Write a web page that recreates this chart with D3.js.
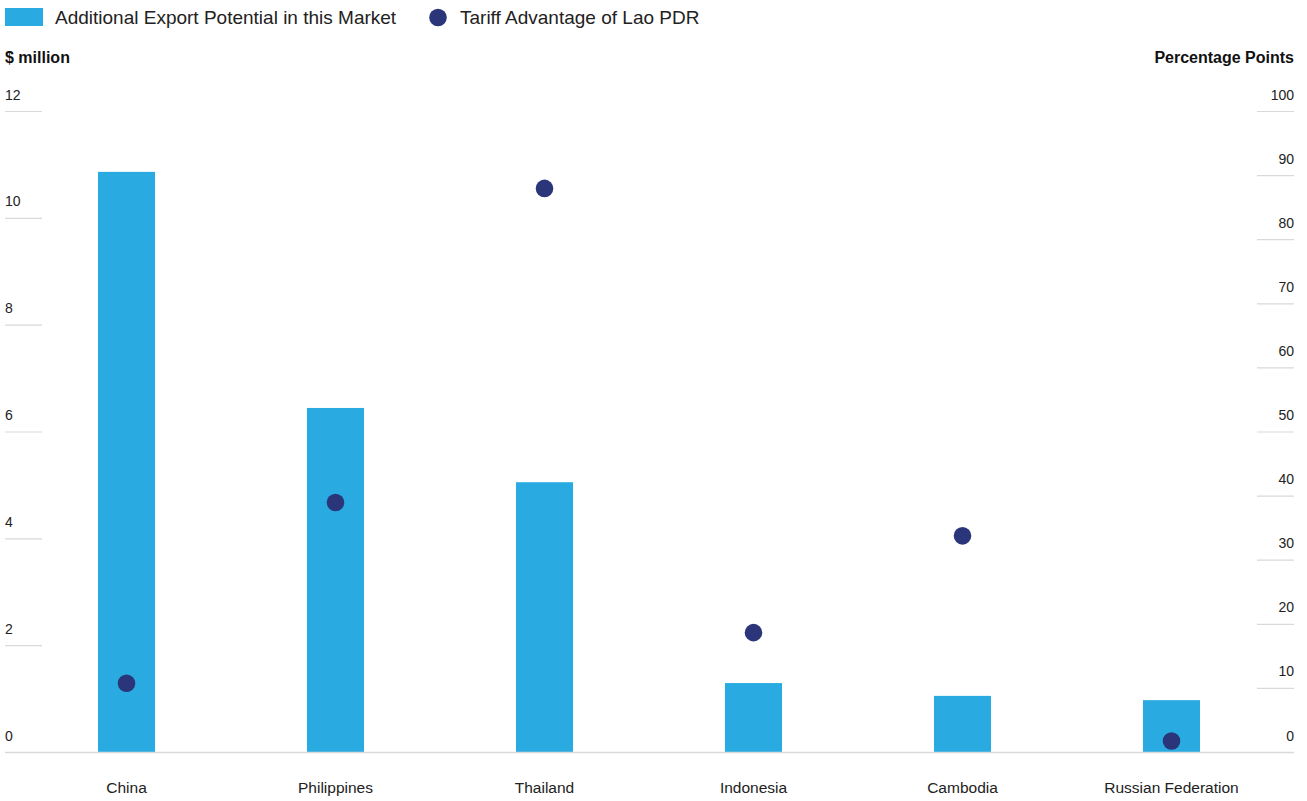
<!DOCTYPE html>
<html>
<head>
<meta charset="utf-8">
<script src="https://cdn.jsdelivr.net/npm/d3@7"></script>
<style>
  html, body { margin: 0; padding: 0; background: #ffffff; }
  svg { display: block; font-family: "Liberation Sans", Arial, Helvetica, sans-serif; }
</style>
</head>
<body>
<svg id="chart" width="1307" height="801"></svg>
<script>
// Markets, export potential ($ million) and tariff advantage (percentage points)
const markets = ["China", "Philippines", "Thailand", "Indonesia", "Cambodia", "Russian Federation"];
const exportPotential = [10.87, 6.45, 5.06, 1.30, 1.06, 0.98];
const tariffAdvantage = [10.8, 39.0, 88.0, 18.7, 33.8, 1.8];
const leftTicks = [0, 2, 4, 6, 8, 10, 12];
const rightTicks = [0, 10, 20, 30, 40, 50, 60, 70, 80, 90, 100];

const barColor = "#29abe2";
const dotColor = "#2b3579";
const gridColor = "#d9d9d9";

const svg = d3.select("#chart");

const plotTop = 111.5, plotBottom = 752.5;
const x = d3.scaleBand().domain(markets).range([22, 1276]).paddingInner(0.727).paddingOuter(0.3635);
const yL = d3.scaleLinear().domain([0, 12]).range([plotBottom, plotTop]);
const yR = d3.scaleLinear().domain([0, 100]).range([plotBottom, plotTop]);

// Legend
const legend = svg.append("g");
legend.append("rect").attr("x", 5).attr("y", 8).attr("width", 38).attr("height", 18).attr("fill", barColor);
legend.append("text").attr("x", 55).attr("y", 24).attr("font-size", 19).attr("fill", "#222")
  .text("Additional Export Potential in this Market");
legend.append("circle").attr("cx", 438).attr("cy", 17.5).attr("r", 8.8).attr("fill", dotColor);
legend.append("text").attr("x", 460).attr("y", 24).attr("font-size", 19).attr("fill", "#222")
  .text("Tariff Advantage of Lao PDR");

// Axis titles
svg.append("text").attr("x", 5).attr("y", 63).attr("font-size", 16).attr("font-weight", "bold").attr("fill", "#111")
  .text("$ million");
svg.append("text").attr("x", 1294).attr("y", 63).attr("text-anchor", "end").attr("font-size", 16)
  .attr("font-weight", "bold").attr("fill", "#111").text("Percentage Points");

// Left axis ticks (short rules with labels above)
const gl = svg.append("g");
leftTicks.filter(d => d > 0).forEach(d => {
  gl.append("line").attr("x1", 5).attr("x2", 42).attr("y1", yL(d)).attr("y2", yL(d))
    .attr("stroke", gridColor).attr("stroke-width", 1.2);
});
leftTicks.forEach(d => {
  gl.append("text").attr("x", 5).attr("y", yL(d) - 12).attr("font-size", 14).attr("fill", "#222").text(d);
});

// Right axis ticks
const gr = svg.append("g");
rightTicks.filter(d => d > 0).forEach(d => {
  gr.append("line").attr("x1", 1257).attr("x2", 1294).attr("y1", yR(d)).attr("y2", yR(d))
    .attr("stroke", gridColor).attr("stroke-width", 1.2);
});
rightTicks.forEach(d => {
  gr.append("text").attr("x", 1294).attr("y", yR(d) - 12).attr("text-anchor", "end")
    .attr("font-size", 14).attr("fill", "#222").text(d);
});

// Bars
svg.append("g").selectAll("rect").data(markets).join("rect")
  .attr("x", d => x(d))
  .attr("width", x.bandwidth())
  .attr("y", (d, i) => yL(exportPotential[i]))
  .attr("height", (d, i) => yL(0) - yL(exportPotential[i]))
  .attr("fill", barColor);

// Baseline
svg.append("line").attr("x1", 5).attr("x2", 1294).attr("y1", plotBottom).attr("y2", plotBottom)
  .attr("stroke", gridColor).attr("stroke-width", 1.5);

// Dots
svg.append("g").selectAll("circle").data(markets).join("circle")
  .attr("cx", d => x(d) + x.bandwidth() / 2)
  .attr("cy", (d, i) => yR(tariffAdvantage[i]))
  .attr("r", 8.8)
  .attr("fill", dotColor);

// Category labels
svg.append("g").selectAll("text").data(markets).join("text")
  .attr("x", d => x(d) + x.bandwidth() / 2)
  .attr("y", 793)
  .attr("text-anchor", "middle")
  .attr("font-size", 15.5)
  .attr("fill", "#222")
  .text(d => d);
</script>
</body>
</html>
